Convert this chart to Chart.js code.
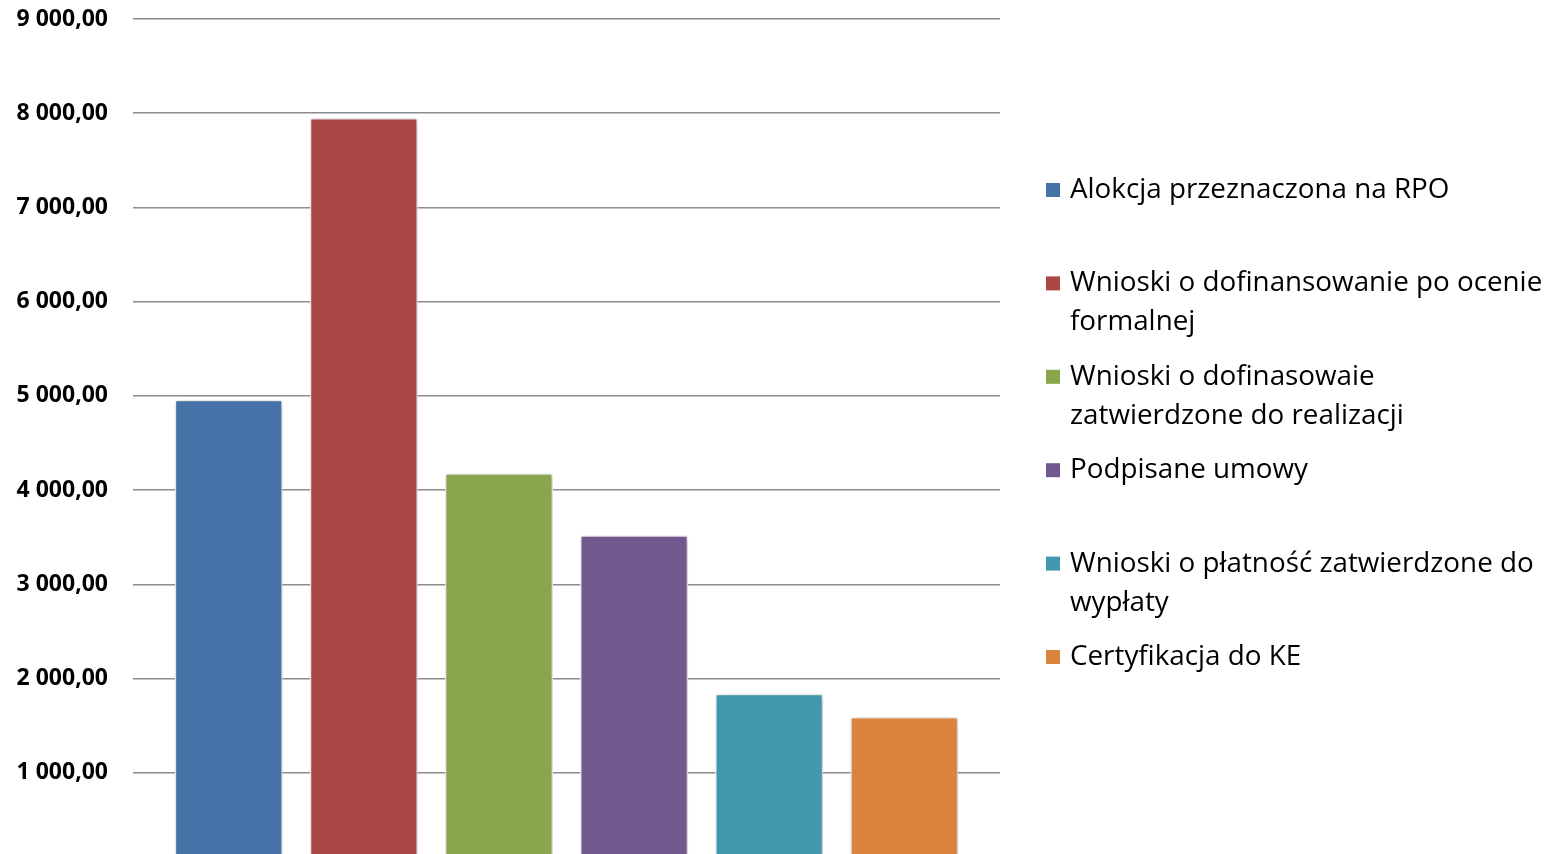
<!DOCTYPE html>
<html>
<head>
<meta charset="utf-8">
<script src="https://cdn.jsdelivr.net/npm/chart.js@4"></script>
<style>
  html, body { margin: 0; padding: 0; background: #fff; overflow: hidden; }
  canvas { display: block; }
</style>
</head>
<body>
<canvas id="chart" width="1558" height="867"></canvas>
<script>
const seriesNames = [
  "Alokcja przeznaczona na RPO",
  "Wnioski o dofinansowanie po ocenie formalnej",
  "Wnioski o dofinasowaie zatwierdzone do realizacji",
  "Podpisane umowy",
  "Wnioski o płatność zatwierdzone do wypłaty",
  "Certyfikacja do KE",
];
// legend lines as wrapped in the picture
const legendLines = [
  ["Alokcja przeznaczona na RPO"],
  ["Wnioski o dofinansowanie po ocenie", "formalnej"],
  ["Wnioski o dofinasowaie", "zatwierdzone do realizacji"],
  ["Podpisane umowy"],
  ["Wnioski o płatność zatwierdzone do", "wypłaty"],
  ["Certyfikacja do KE"],
];
const seriesValues = [4960, 7950, 4180, 3520, 1838, 1592];
const seriesColors = ["#4572A7", "#AA4643", "#89A54E", "#71588F", "#4198AF", "#DB843D"];
const yTicks = [0, 1000, 2000, 3000, 4000, 5000, 6000, 7000, 8000, 9000];

function formatPL(v) {
  const s = Math.round(v).toString().replace(/\B(?=(\d{3})+(?!\d))/g, " ");
  return s + ",00";
}

const barShadow = {
  id: "barShadow",
  beforeDatasetsDraw(chart) {
    const ctx = chart.ctx;
    ctx.save();
    ctx.shadowColor = "rgba(0,0,0,0.3)";
    ctx.shadowBlur = 6;
    ctx.shadowOffsetX = 1;
    ctx.shadowOffsetY = 1;
  },
  afterDatasetsDraw(chart) {
    chart.ctx.restore();
  },
};

const sideLegend = {
  id: "sideLegend",
  afterDraw(chart) {
    const ctx = chart.ctx;
    const x0 = chart.chartArea.right + 46;
    const firstY = 190;
    const step = 93.4;
    const lineH = 39;
    ctx.save();
    ctx.font = "27.8px 'Open Sans'";
    ctx.textBaseline = "middle";
    chart.data.datasets.forEach((ds, i) => {
      const y = firstY + i * step;
      ctx.fillStyle = ds.backgroundColor;
      ctx.fillRect(x0, y - 7, 14, 14);
      ctx.fillStyle = "#000";
      legendLines[i].forEach((line, j) => {
        ctx.fillText(line, x0 + 24, y + j * lineH);
      });
    });
    ctx.restore();
  },
};

new Chart(document.getElementById("chart").getContext("2d"), {
  type: "bar",
  data: {
    labels: [""],
    datasets: seriesNames.map((name, i) => ({
      label: name,
      data: [seriesValues[i]],
      backgroundColor: seriesColors[i],
      borderColor: "#ffffff",
      borderWidth: 1.5,
      categoryPercentage: 0.935,
      barPercentage: 0.8,
    })),
  },
  options: {
    responsive: false,
    animation: false,
    layout: { padding: { top: 19, right: 558, bottom: 0, left: 0 } },
    plugins: {
      legend: { display: false },
      tooltip: { enabled: false },
    },
    scales: {
      x: { display: false },
      y: {
        min: 0,
        max: 9000,
        afterBuildTicks: (axis) => { axis.ticks = yTicks.map((v) => ({ value: v })); },
        afterFit: (axis) => {
          axis.width = 133;
          axis.paddingTop = 0;
          axis.paddingBottom = 0;
        },
        border: { display: false },
        grid: { color: "#8c8c8c", lineWidth: 1.5, drawTicks: false },
        ticks: {
          padding: 25,
          color: "#000",
          font: { family: "Open Sans", weight: "bold", size: 23 },
          callback: (v) => formatPL(v),
        },
      },
    },
  },
  plugins: [barShadow, sideLegend],
});
</script>
</body>
</html>
